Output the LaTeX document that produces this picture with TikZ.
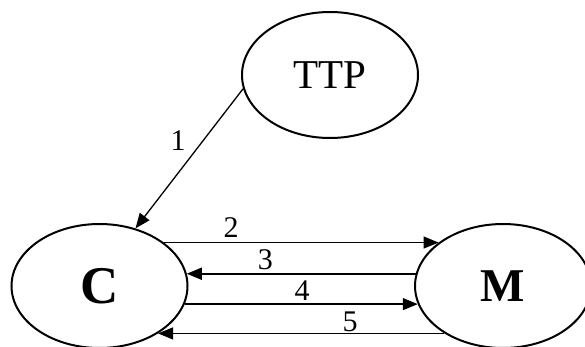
\documentclass[tikz,border=0pt]{standalone}
\usepackage{fontspec}
\setmainfont{Liberation Serif}
\usetikzlibrary{arrows.meta,shapes.geometric}
\begin{document}
\begin{tikzpicture}[x=1pt,y=-1pt,
  party/.style={draw, ellipse, line width=2pt, inner sep=0pt, minimum width=176pt, minimum height=124pt},
  msg/.style={line width=1.3pt, -{Triangle[length=15pt,width=12pt]}},
  lbl/.style={font=\fontsize{30}{30}\selectfont, inner sep=0pt}]
\useasboundingbox (0,0) rectangle (585,347);
\node[party, minimum height=126pt, font=\fontsize{41}{41}\selectfont] (T) at (330,75) {TTP};
\node[party, font=\fontsize{53}{53}\selectfont\bfseries] (C) at (99.5,286) {C};
\node[party, font=\fontsize{47}{47}\selectfont\bfseries] (M) at (503,286) {M};
\draw[msg] (T.189.6) -- node[lbl, pos=0.37, left=17pt] {1} (C.58.3);
\draw[msg] (C.34) -- node[lbl, pos=0.245, above=4pt] {2} (M.146);
\draw[msg, line width=1.9pt] (M.172) -- node[lbl, pos=0.657, above=3pt] {3} (C.8);
\draw[msg] (C.-12.8) -- node[lbl, pos=0.504, above=3pt] {4} (M.192.8);
\draw[msg] (M.219.3) -- node[lbl, pos=0.329, above=1pt] {5} (C.-39.3);
\end{tikzpicture}
\end{document}
